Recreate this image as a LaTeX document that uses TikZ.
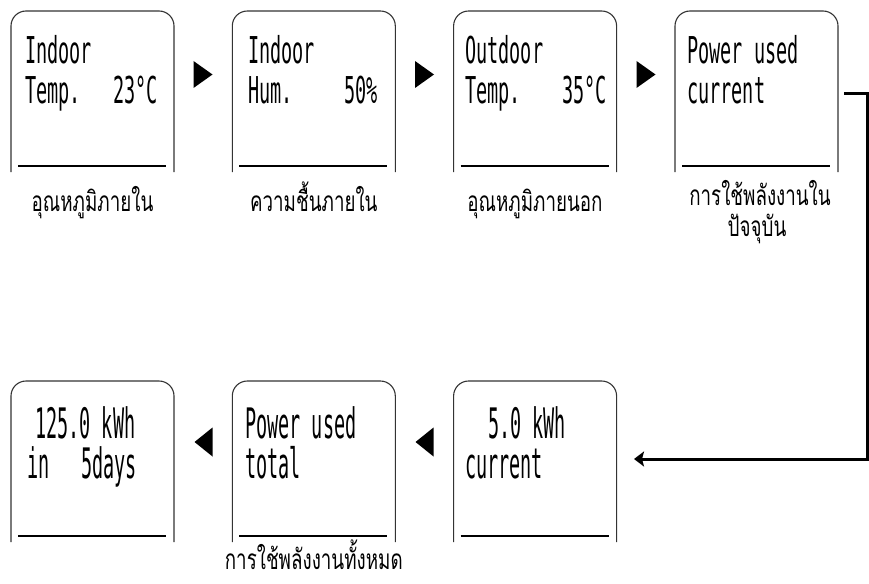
\documentclass[tikz,border=0pt]{standalone}
\usepackage{fontspec}
\newfontfamily\lcdtop[FakeStretch=0.50]{DejaVu Sans Mono}
\newfontfamily\lcdbot[FakeStretch=0.44]{DejaVu Sans Mono}
\newfontfamily\thaifont[Script=Thai,FakeStretch=0.67]{Loma}
\usetikzlibrary{arrows.meta}
\begin{document}
\begin{tikzpicture}[x=1pt,y=-1pt,
  frame/.style={draw=black!80, line width=1.1pt, rounded corners=15pt},
  rulebar/.style={line width=1.7pt},
  ttop/.style={inner sep=0pt, font=\lcdtop\fontsize{37}{37}\selectfont},
  tbot/.style={inner sep=0pt, font=\lcdbot\fontsize{42}{42}\selectfont},
  lab/.style={inner sep=0pt, anchor=base, font=\thaifont\fontsize{28}{28}\selectfont},
  marker/.style={fill=black},
  link/.style={line width=3pt, -{Stealth[length=10pt,width=15pt,inset=2pt]}}
]
\useasboundingbox (0,0) rectangle (869,583);
% screens, top row
\foreach \x in {11,232.3,453.6,675} {
  \draw[frame] (\x,172) -- (\x,11) -- (\x+163,11) -- (\x+163,172);
  \draw[rulebar] (\x+7,166) -- (\x+155,166);
}
% screens, bottom row
\foreach \x in {11,232.3,453.6} {
  \draw[frame] (\x,542) -- (\x,381) -- (\x+163,381) -- (\x+163,542);
  \draw[rulebar] (\x+7,536) -- (\x+155,536);
}
% markers
\foreach \c in {203,424.5,646} {
  \fill[marker] (\c-9.5,61) -- (\c+9.5,74.5) -- (\c-9.5,88) -- cycle;
}
\foreach \c in {203.5,424.5} {
  \fill[marker] (\c+9,427.5) -- (\c-9,442) -- (\c+9,456.5) -- cycle;
}
% top row texts
\node[ttop,anchor=base west] (t1a) at (25,64) {Indoor};
\node[ttop,anchor=base west] (t1b) at (25,103) {Temp.};
\node[ttop,anchor=base east] (t1c) at (158,103) {23°C};
\node[ttop,anchor=base west] (t2a) at (248,64) {Indoor};
\node[ttop,anchor=base west] (t2b) at (248,103) {Hum.};
\node[ttop,anchor=base east] (t2c) at (378,103) {50\%};
\node[ttop,anchor=base west] (t3a) at (465,64) {Outdoor};
\node[ttop,anchor=base west] (t3b) at (465,103) {Temp.};
\node[ttop,anchor=base east] (t3c) at (607,103) {35°C};
\node[ttop,anchor=base west] (t4a) at (687,64) {Power used};
\node[ttop,anchor=base west] (t4b) at (687,103) {current};
% bottom row texts
\node[tbot,anchor=base west] (b1a) at (35,438) {125.0 kWh};
\node[tbot,anchor=base west] (b1b) at (27,478) {in};
\node[tbot,anchor=base east] (b1c) at (137,478) {5days};
\node[tbot,anchor=base west] (b2a) at (245,438) {Power used};
\node[tbot,anchor=base west] (b2b) at (245,478) {total};
\node[tbot,anchor=base west] (b3a) at (488,438) {5.0 kWh};
\node[tbot,anchor=base west] (b3b) at (465,478) {current};
% Thai labels
\node[lab] (l1) at (92.5,211) {อุณหภูมิภายใน};
\node[lab] (l2) at (313.8,211) {ความชื้นภายใน};
\node[lab] (l3) at (535,211) {อุณหภูมิภายนอก};
\node[lab] (l4a) at (760,205) {การใช้พลังงานใน};
\node[lab] (l4b) at (757,236) {ปัจจุบัน};
\node[lab] (l5) at (313.8,569) {การใช้พลังงานทั้งหมด};
% connector
\coordinate (s) at (844,94);
\coordinate (k1) at (867,94);
\coordinate (k2) at (867,459);
\coordinate (e) at (634,459);
\draw[link] (s) -- (k1) -- (k2) -- (e);
\end{tikzpicture}
\end{document}
